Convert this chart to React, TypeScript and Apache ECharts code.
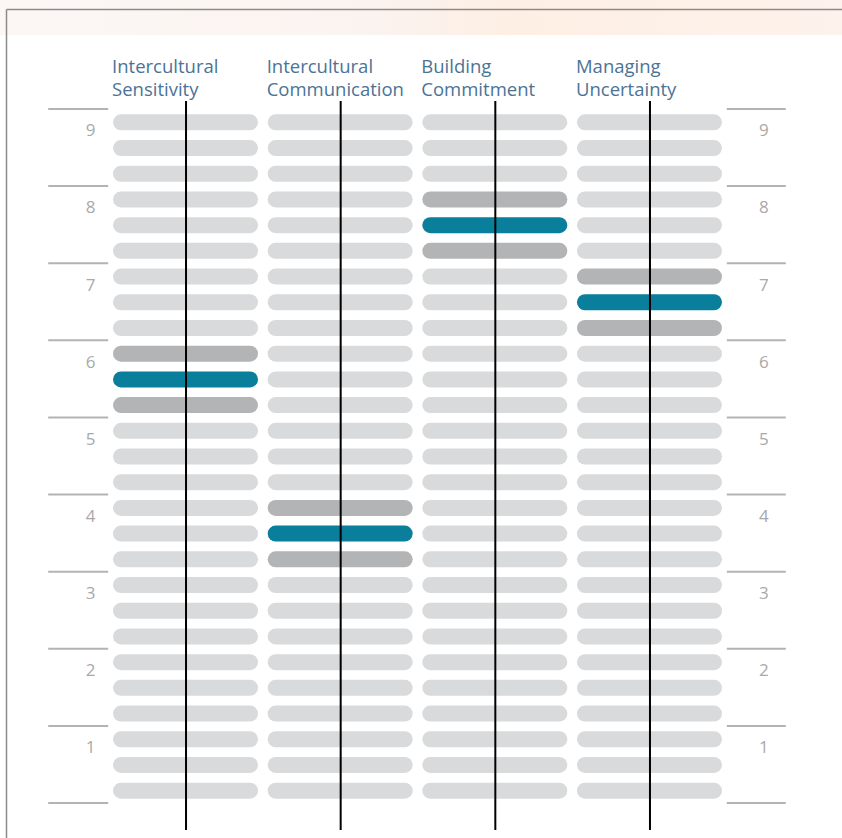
import React, { useEffect, useRef } from "react";
import * as echarts from "echarts";

// ---- data ----
const titleLine1 = ["Intercultural", "Intercultural", "Building", "Managing"];
const titleLine2 = ["Sensitivity", "Communication", "Commitment", "Uncertainty"];
const scores = [6, 4, 8, 7]; // level band holding the highlighted score
const levels = [1, 2, 3, 4, 5, 6, 7, 8, 9];
const subRows = [0, 1, 2]; // three sub-rows per level band
const bandEdges = [0, 1, 2, 3, 4, 5, 6, 7, 8, 9];

const LIGHT = "#d9dadb";
const DARK = "#b3b4b5";
const TEAL = "#0a7f9c";

export default function App() {
  const ref = useRef<HTMLDivElement>(null);
  useEffect(() => {
    if (!ref.current) return;
    const chart = echarts.init(ref.current, null, { renderer: "svg" });

    const rowData: any[] = [];
    scores.forEach((score, c) => {
      levels.forEach((k) => {
        subRows.forEach((s) => {
          const v = k - 1 + (s + 0.5) / 3;
          let kind = 0;
          if (k === score) kind = s === 1 ? 2 : 1;
          rowData.push([c, v, kind]);
        });
      });
    });

    const option: any = {
      animation: false,
      backgroundColor: "#ffffff",
      graphic: [
        {
          type: "rect",
          left: 0,
          top: 0,
          shape: { width: 842, height: 35 },
          style: {
            fill: new echarts.graphic.LinearGradient(0, 0, 1, 0, [
              { offset: 0, color: "#fcf7f5" },
              { offset: 0.45, color: "#fbf3f0" },
              { offset: 0.6, color: "#fdefe3" },
              { offset: 1, color: "#fdf2ec" },
            ]),
          },
          z: -10,
        },
        {
          type: "line",
          shape: { x1: 6.5, y1: 9.5, x2: 842, y2: 9.5 },
          style: { stroke: "#8f8a8a", lineWidth: 1.5 },
        },
        {
          type: "line",
          shape: { x1: 6.5, y1: 9.5, x2: 6.5, y2: 838 },
          style: { stroke: "#8f8a8a", lineWidth: 1.5 },
        },
      ],
      grid: { left: 108.2, right: 115.2, top: 109, bottom: 35 },
      xAxis: {
        type: "category",
        data: titleLine1.map((t, i) => t + " " + titleLine2[i]),
        show: false,
      },
      yAxis: { type: "value", min: 0, max: 9, show: false },
      series: [
        {
          type: "custom",
          data: rowData,
          clip: false,
          renderItem: (params: any, api: any) => {
            const p = api.coord([api.value(0), api.value(1)]);
            const kind = api.value(2);
            const fill = kind === 2 ? TEAL : kind === 1 ? DARK : LIGHT;
            return {
              type: "rect",
              shape: { x: p[0] - 72.5, y: p[1] - 7.5, width: 145, height: 16, r: 8 },
              style: { fill },
            };
          },
          z: 2,
        },
        {
          type: "custom",
          data: scores.map((_, i) => [i]),
          clip: false,
          renderItem: (params: any, api: any) => {
            const top = api.coord([api.value(0), 9]);
            const bot = api.coord([api.value(0), 0]);
            const x = top[0] + 0.5;
            return {
              type: "line",
              shape: { x1: x, y1: top[1] - 8, x2: x, y2: bot[1] + 27 },
              style: { stroke: "#000000", lineWidth: 2 },
            };
          },
          z: 5,
        },
        {
          type: "custom",
          data: titleLine1.map((_, i) => [i]),
          clip: false,
          renderItem: (params: any, api: any) => {
            const i = api.value(0);
            const p = api.coord([i, 9]);
            const x = p[0] - 73.5;
            const style = {
              fill: "#4b7396",
              fontSize: 18.5,
              fontFamily: "Open Sans",
              align: "left",
              verticalAlign: "middle",
            };
            return {
              type: "group",
              children: [
                { type: "text", x, y: 65, style: { ...style, text: titleLine1[i] } },
                { type: "text", x, y: 88, style: { ...style, text: titleLine2[i] } },
              ],
            };
          },
          z: 5,
        },
        {
          type: "custom",
          data: bandEdges.map((v) => [v]),
          clip: false,
          renderItem: (params: any, api: any) => {
            const cs = params.coordSys;
            const y = api.coord([0, api.value(0)])[1];
            const left = cs.x;
            const right = cs.x + cs.width;
            const st = { stroke: "#b3b3b3", lineWidth: 2 };
            return {
              type: "group",
              children: [
                { type: "line", shape: { x1: left - 60, y1: y, x2: left, y2: y }, style: st },
                { type: "line", shape: { x1: right, y1: y, x2: right + 59, y2: y }, style: st },
              ],
            };
          },
          z: 3,
        },
        {
          type: "custom",
          data: levels.map((v) => [v]),
          clip: false,
          renderItem: (params: any, api: any) => {
            const cs = params.coordSys;
            const k = api.value(0);
            const y = api.coord([0, k - 0.25])[1] + 1.5;
            const left = cs.x;
            const right = cs.x + cs.width;
            const style = {
              text: String(k),
              fill: "#a9a9a9",
              fontSize: 17,
              fontFamily: "Open Sans",
              align: "center",
              verticalAlign: "middle",
            };
            return {
              type: "group",
              children: [
                { type: "text", x: left - 17.5, y, style },
                { type: "text", x: right + 37, y, style },
              ],
            };
          },
          z: 3,
        },
      ],
    };
    chart.setOption(option);
    return () => chart.dispose();
  }, []);
  return (
    <div
      ref={ref}
      style={{ position: "fixed", left: 0, top: 0, width: 842, height: 838 }}
    />
  );
}
